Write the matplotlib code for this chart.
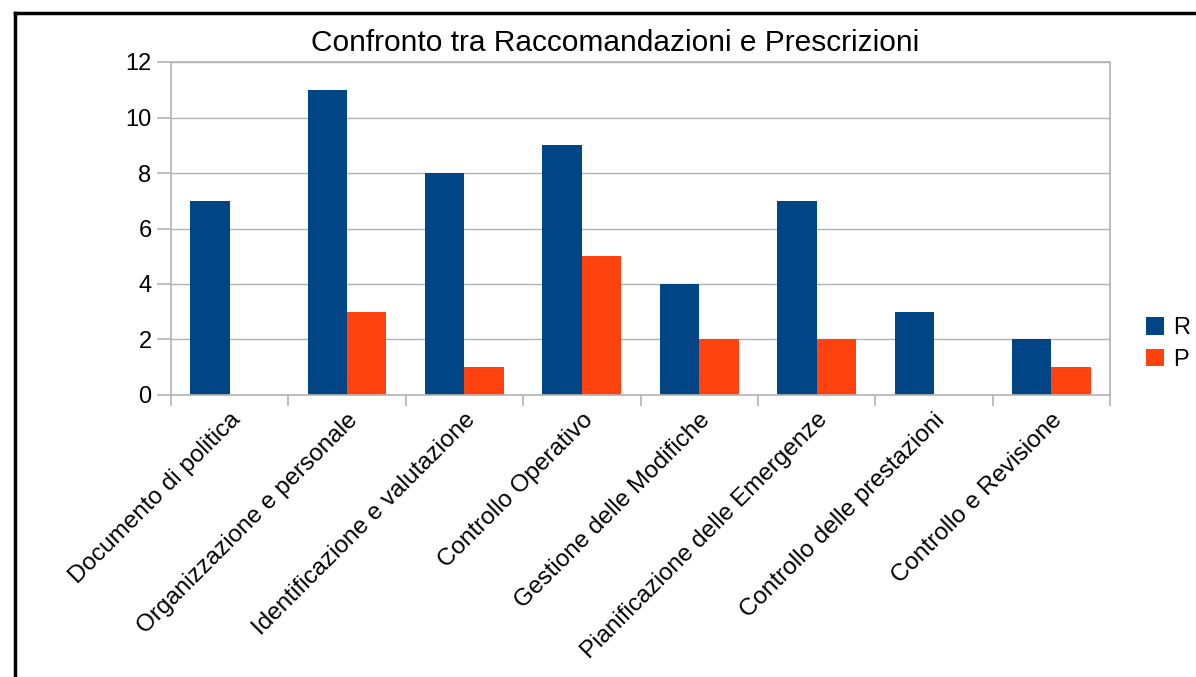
import matplotlib.pyplot as plt
import numpy as np
from matplotlib.lines import Line2D

plt.rcParams['font.family'] = ['Liberation Sans', 'DejaVu Sans']

# categories and values
categories = ['Documento di politica', 'Organizzazione e personale',
              'Identificazione e valutazione', 'Controllo Operativo',
              'Gestione delle Modifiche', 'Pianificazione delle Emergenze',
              'Controllo delle prestazioni', 'Controllo e Revisione']
r_values = [7, 11, 8, 9, 4, 7, 3, 2]
p_values = [0, 3, 1, 5, 2, 2, 0, 1]

fig = plt.figure(figsize=(11.96, 6.77), dpi=100)
ax = fig.add_axes([171/1196, 1-395/677, 939/1196, 333/677])

x = np.arange(len(categories))
w = 0.335
ax.bar(x - w/2, r_values, w, color='#004586', label='R')
ax.bar(x + w/2, p_values, w, color='#ff420e', label='P')

ax.set_xlim(-0.5, len(categories) - 0.5)
ax.set_ylim(0, 12)
ax.set_yticks(range(0, 13, 2))
ax.yaxis.grid(True, color='#b3b3b3', linewidth=1)
ax.set_axisbelow(True)
for s in ax.spines.values():
    s.set_color('#b3b3b3')
    s.set_linewidth(1.2)

# ticks at category boundaries, labels at centres
ax.set_xticks(np.arange(-0.5, len(categories)), minor=False)
ax.set_xticklabels([])
ax.set_xticks(x, minor=True)
ax.set_xticklabels(categories, minor=True, rotation=45, ha='right',
                   rotation_mode='anchor', fontsize=17.5)
ax.tick_params(axis='x', which='major', length=8, color='#b3b3b3', width=1.2)
ax.tick_params(axis='x', which='minor', length=0, pad=10)
ax.tick_params(axis='y', length=10, color='#b3b3b3', width=1.2, labelsize=17, pad=4)

fig.text(615/1196, 1 - 43/677, 'Confronto tra Raccomandazioni e Prescrizioni',
         ha='center', va='center', fontsize=21.5)

ax.legend(loc='center left', bbox_to_anchor=(1146/1196, 1 - 344/677),
          bbox_transform=fig.transFigure, frameon=False, fontsize=17,
          borderpad=0, borderaxespad=0,
          handlelength=0.75, handleheight=0.75, handletextpad=0.4, labelspacing=0.4)

# outer border
fig.add_artist(Line2D([15/1196, 15/1196], [0, 1 - 13/677], color='black', lw=2.5,
                      transform=fig.transFigure))
fig.add_artist(Line2D([15/1196, 1], [1 - 13/677, 1 - 13/677], color='black', lw=2.5,
                      transform=fig.transFigure))

fig.savefig('out.png', dpi=100)
